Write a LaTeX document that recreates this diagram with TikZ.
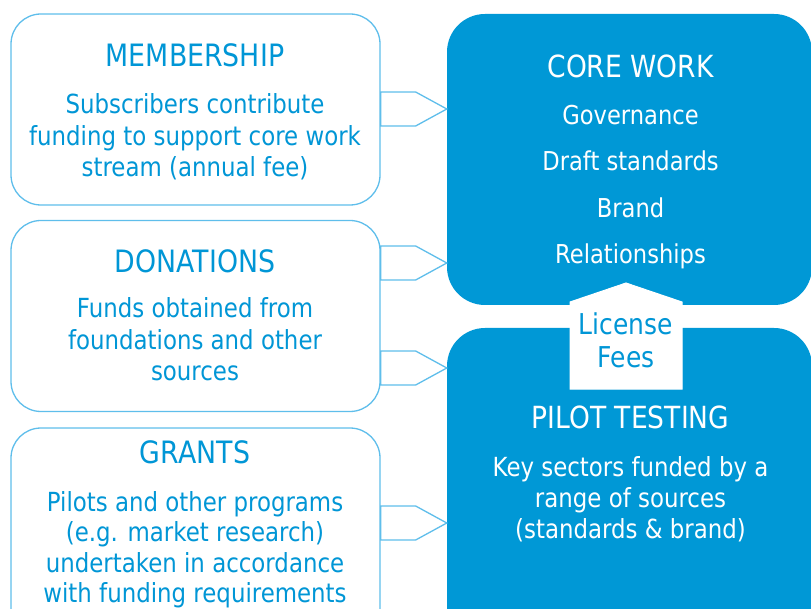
\documentclass[tikz,border=0pt]{standalone}
\usepackage{fontspec}
\setmainfont{DejaVu Sans}[FakeStretch=0.87]
\usetikzlibrary{calc}
\definecolor{fillblue}{RGB}{0,152,214}
\definecolor{textblue}{RGB}{0,150,214}
\definecolor{lineblue}{RGB}{95,190,235}
\tikzset{
  lbox/.style={draw=lineblue, line width=1.3pt, rounded corners=30pt, fill=white,
    minimum width=369pt, minimum height=191pt, inner sep=0pt},
  rbox/.style={fill=fillblue, rounded corners=38pt, minimum width=365pt, inner sep=0pt},
  ltitle/.style={anchor=base, text=textblue, inner sep=0pt, font=\fontsize{30.8}{34}\selectfont},
  lbody/.style={anchor=base, text=textblue, inner sep=0pt, font=\fontsize{26.3}{30}\selectfont},
  rtitle/.style={anchor=base, text=white, inner sep=0pt, font=\fontsize{30.5}{34}\selectfont},
  rbody/.style={anchor=base, text=white, inner sep=0pt, font=\fontsize{26}{30}\selectfont},
  pbody/.style={anchor=base, text=white, inner sep=0pt, font=\fontsize{26.3}{30}\selectfont},
  barrow/.style={draw=lineblue, line width=1.3pt, fill=white, line join=miter},
  house/.style={draw=white, line width=1pt, fill=white},
  lic/.style={text=textblue, align=center, inner sep=0pt, font=\fontsize{28.7}{35}\selectfont}
}
\begin{document}
\begin{tikzpicture}[x=1pt,y=-1pt]
\useasboundingbox (0,0) rectangle (811,609);
\clip (0,0) rectangle (811,609);
% left boxes
\node[lbox] (mem) at (195.5,109.5) {};
\node[lbox] (don) at (195.5,316) {};
\node[lbox, minimum height=212pt] (gra) at (195.5,534) {};
% right boxes
\node[rbox, minimum height=291pt] (core) at (629.5,159.5) {};
\node[rbox, minimum height=322pt] (pil) at (629.5,489) {};
% block arrows
\foreach \src/\dst/\yy in {mem/core/109, don/core/263, don/pil/368, gra/pil/523}{
  \draw[barrow] ($(\src.east |- 0,\yy)+(0,-17)$) -- ++(35,0)
    -- (\dst.west |- 0,\yy) -- ($(\src.east |- 0,\yy)+(35,17)$)
    -- ($(\src.east |- 0,\yy)+(0,17)$) -- cycle;
}
% texts left
\node[ltitle] (memT) at (195,67) {MEMBERSHIP};
\node[lbody] (mem1) at (195,114) {Subscribers contribute};
\node[lbody] (mem2) at (195,145.3) {funding to support core work};
\node[lbody] (mem3) at (195,176.6) {stream (annual fee)};
\node[ltitle] (donT) at (195,273) {DONATIONS};
\node[lbody] (don1) at (195,318) {Funds obtained from};
\node[lbody] (don2) at (195,349.5) {foundations and other};
\node[lbody] (don3) at (195,381) {sources};
\node[ltitle] (graT) at (195,463) {GRANTS};
\node[lbody] (gra1) at (195,511) {Pilots and other programs};
\node[lbody] (gra2) at (195,541.5) {(e.g. market research)};
\node[lbody] (gra3) at (195,572) {undertaken in accordance};
\node[lbody] (gra4) at (195,602) {with funding requirements};
% texts right
\node[rtitle] (coreT) at (630.5,78) {CORE WORK};
\node[rbody] (core1) at (630.5,124.5) {Governance};
\node[rbody] (core2) at (630.5,170.9) {Draft standards};
\node[rbody] (core3) at (630.5,217.3) {Brand};
\node[rbody] (core4) at (630.5,263.7) {Relationships};
\node[rtitle] (pilT) at (630.5,428) {PILOT TESTING};
\node[pbody] (pil1) at (630.5,476) {Key sectors funded by a};
\node[pbody] (pil2) at (630.5,507) {range of sources};
\node[pbody] (pil3) at (630.5,538) {(standards \& brand)};
% license fees house
\coordinate (hb) at (626,389);
\draw[house] ($(hb)+(-56,0)$) -- ++(0,-87) -- ($(hb)+(0,-106)$) -- ($(hb)+(56,-87)$) -- ($(hb)+(56,0)$) -- cycle;
\node[lic] (licT) at (626,340) {License\\[-2pt]Fees};
\end{tikzpicture}
\end{document}
